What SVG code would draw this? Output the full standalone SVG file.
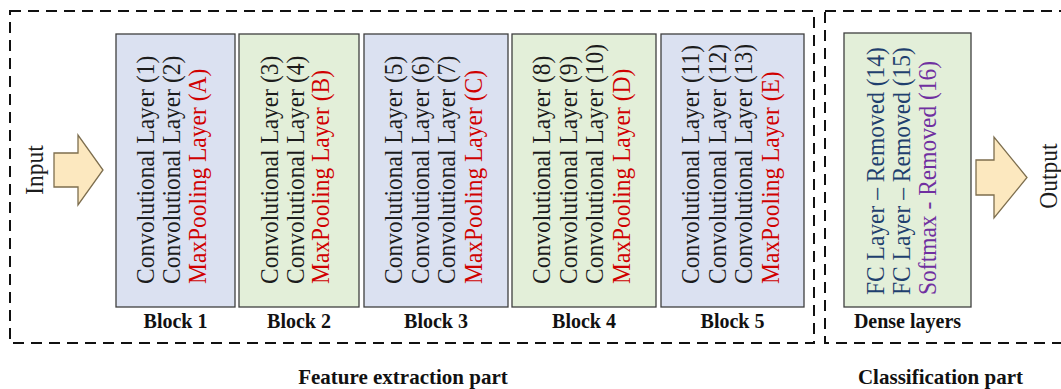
<svg xmlns="http://www.w3.org/2000/svg" width="1061" height="389" viewBox="0 0 1061 389">
  <style>
    .frame { fill: none; stroke: #111; stroke-width: 2; stroke-dasharray: 11 7; }
    .blue { fill: #dbe1f1; stroke: #3f3f3f; stroke-width: 1.3; }
    .green { fill: #e3efd9; stroke: #3f3f3f; stroke-width: 1.3; }
    .layers { font-family: "Liberation Serif", "Times New Roman", serif; font-size: 25px; fill: #1c1c1c; }
    .pool { fill: #d00000; }
    .fc { fill: #1f3f6e; }
    .soft { fill: #7030a0; }
    .caption { font-family: "Liberation Serif", "Times New Roman", serif; font-size: 20px; font-weight: bold; fill: #111; text-anchor: middle; }
    .title { font-size: 21px; }
    .io { font-family: "Liberation Serif", "Times New Roman", serif; font-size: 25px; fill: #1c1c1c; text-anchor: middle; }
    .arrow { fill: #fce8bf; stroke: #7d6e4e; stroke-width: 1.3; stroke-linejoin: miter; }
  </style>

  <!-- dashed section frames -->
  <g id="frames">
    <rect class="frame" x="10" y="11" width="804" height="332"/>
    <rect class="frame" x="825" y="11" width="250" height="332"/>
  </g>

  <!-- block arrows -->
  <g id="connectors">
    <path class="arrow" d="M54,153 H78 V135 L103,170 L78,205 V187 H54 Z"/>
    <path class="arrow" d="M976,160 H994 V137 L1027,177.5 L994,218 V195 H976 Z"/>
  </g>

  <g id="input">
    <text class="io" transform="translate(43,170) rotate(-90) scale(0.94,1)">Input</text>
  </g>

  <g id="block1">
    <rect class="blue" x="116" y="34" width="119" height="273"/>
    <text class="layers" transform="translate(154,284) rotate(-90) scale(0.94,1)">
      <tspan x="0" y="0">Convolutional Layer (1)</tspan>
      <tspan x="0" dy="26">Convolutional Layer (2)</tspan>
      <tspan x="0" dy="26.5" class="pool">MaxPooling Layer (A)</tspan>
    </text>
    <text class="caption" x="175.5" y="328">Block 1</text>
  </g>

  <g id="block2">
    <rect class="green" x="239" y="34" width="120" height="273"/>
    <text class="layers" transform="translate(278,284) rotate(-90) scale(0.94,1)">
      <tspan x="0" y="0">Convolutional Layer (3)</tspan>
      <tspan x="0" dy="26">Convolutional Layer (4)</tspan>
      <tspan x="0" dy="25.5" class="pool">MaxPooling Layer (B)</tspan>
    </text>
    <text class="caption" x="299" y="328">Block 2</text>
  </g>

  <g id="block3">
    <rect class="blue" x="364" y="34" width="144" height="273"/>
    <text class="layers" transform="translate(402,284) rotate(-90) scale(0.94,1)">
      <tspan x="0" y="0">Convolutional Layer (5)</tspan>
      <tspan x="0" dy="26.7">Convolutional Layer (6)</tspan>
      <tspan x="0" dy="26.7">Convolutional Layer (7)</tspan>
      <tspan x="0" dy="26.7" class="pool">MaxPooling Layer (C)</tspan>
    </text>
    <text class="caption" x="436" y="328">Block 3</text>
  </g>

  <g id="block4">
    <rect class="green" x="512" y="34" width="144" height="273"/>
    <text class="layers" transform="translate(550,284) rotate(-90) scale(0.94,1)">
      <tspan x="0" y="0">Convolutional Layer (8)</tspan>
      <tspan x="0" dy="26.7">Convolutional Layer (9)</tspan>
      <tspan x="0" dy="26.7">Convolutional Layer (10)</tspan>
      <tspan x="0" dy="26.7" class="pool">MaxPooling Layer (D)</tspan>
    </text>
    <text class="caption" x="584" y="328">Block 4</text>
  </g>

  <g id="block5">
    <rect class="blue" x="661" y="34" width="143" height="273"/>
    <text class="layers" transform="translate(699,284) rotate(-90) scale(0.94,1)">
      <tspan x="0" y="0">Convolutional Layer (11)</tspan>
      <tspan x="0" dy="26.7">Convolutional Layer (12)</tspan>
      <tspan x="0" dy="26.7">Convolutional Layer (13)</tspan>
      <tspan x="0" dy="26.7" class="pool">MaxPooling Layer (E)</tspan>
    </text>
    <text class="caption" x="732.5" y="328">Block 5</text>
  </g>

  <g id="dense">
    <rect class="green" x="844" y="33" width="127" height="274"/>
    <text class="layers" transform="translate(884,295) rotate(-90) scale(0.94,1)">
      <tspan x="0" y="0" class="fc">FC Layer – Removed (14)</tspan>
      <tspan x="0" dy="26.5" class="fc">FC Layer – Removed (15)</tspan>
      <tspan x="0" dy="26" class="soft">Softmax - Removed (16)</tspan>
    </text>
    <text class="caption" x="907.5" y="328">Dense layers</text>
  </g>

  <g id="output">
    <text class="io" transform="translate(1057,176) rotate(-90) scale(0.94,1)">Output</text>
  </g>

  <g id="section-titles">
    <text class="caption title" x="403" y="384">Feature extraction part</text>
    <text class="caption title" x="940.5" y="384">Classification part</text>
  </g>
</svg>
